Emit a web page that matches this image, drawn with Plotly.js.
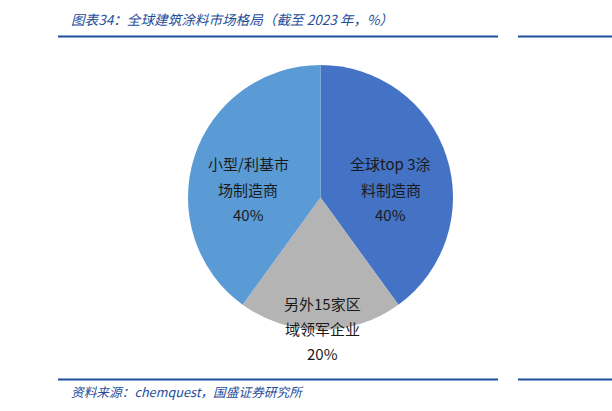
<!DOCTYPE html>
<html>
<head>
<meta charset="utf-8">
<script src="https://cdn.plot.ly/plotly-3.0.1.min.js"></script>
<style>html,body{margin:0;padding:0;background:#fff;}#chart{width:612px;height:411px;}</style>
</head>
<body>
<div id="chart"></div>
<script>
// ---- data ----
const categories = ['全球top 3涂料制造商', '另外15家区域领军企业', '小型/利基市场制造商'];
const shares = [40, 20, 40];
const labelLines = [
  ['全球top 3涂', '料制造商'],
  ['另外15家区', '域领军企业'],
  ['小型/利基市', '场制造商']
];
const titleText = '图表34：全球建筑涂料市场格局（截至 2023 年，%）';
const sourceText = '资料来源：chemquest，国盛证券研究所';

// ---- layout / style ----
const W = 612, H = 411;
const colors = ['#4472C4', '#B4B4B4', '#5B9BD5'];
const labelCenters = [[391, 164], [322, 303], [248, 164]]; // first line centre, px
const lineGap = 25;
const px = x => x / W;
const py = y => 1 - y / H;
const blue = '#1E4D9B';

const annotations = [];
labelLines.forEach((lines, i) => {
  const all = lines.concat([shares[i] + '%']);
  all.forEach((t, j) => {
    annotations.push({
      xref: 'paper', yref: 'paper',
      x: px(labelCenters[i][0]), y: py(labelCenters[i][1] + j * lineGap),
      xanchor: 'center', yanchor: 'middle',
      text: t, showarrow: false,
      font: {family: 'Noto Sans CJK SC, sans-serif', size: 15, color: '#1a1a1a'}
    });
  });
});
annotations.push({
  xref: 'paper', yref: 'paper', x: px(69), y: py(19),
  xanchor: 'left', yanchor: 'middle', showarrow: false,
  text: '<i>' + titleText + '</i>',
  font: {family: 'Noto Sans CJK SC, sans-serif', size: 13.6, color: blue}
});
annotations.push({
  xref: 'paper', yref: 'paper', x: px(69), y: py(391),
  xanchor: 'left', yanchor: 'middle', showarrow: false,
  text: '<i>' + sourceText + '</i>',
  font: {family: 'Noto Sans CJK SC, sans-serif', size: 12.7, color: blue}
});

const hline = (x0, x1, y) => ({
  type: 'line', xref: 'paper', yref: 'paper',
  x0: px(x0), x1: px(x1), y0: py(y), y1: py(y),
  line: {color: blue, width: 2}
});

const trace = {
  type: 'pie',
  labels: categories,
  values: shares,
  sort: false,
  direction: 'clockwise',
  rotation: 0,
  textinfo: 'none',
  hoverinfo: 'label+percent',
  marker: {colors: colors, line: {width: 0}},
  domain: {x: [px(188), px(453)], y: [py(330), py(65)]},
  showlegend: false
};

const layout = {
  width: W, height: H,
  margin: {l: 0, r: 0, t: 0, b: 0},
  paper_bgcolor: '#fff', plot_bgcolor: '#fff',
  showlegend: false,
  annotations: annotations,
  shapes: [hline(58, 498, 36.5), hline(518, 612, 36.5), hline(58, 498, 379.5), hline(518, 612, 379.5)]
};

Plotly.newPlot('chart', [trace], layout, {staticPlot: true, displayModeBar: false});
</script>
</body>
</html>
